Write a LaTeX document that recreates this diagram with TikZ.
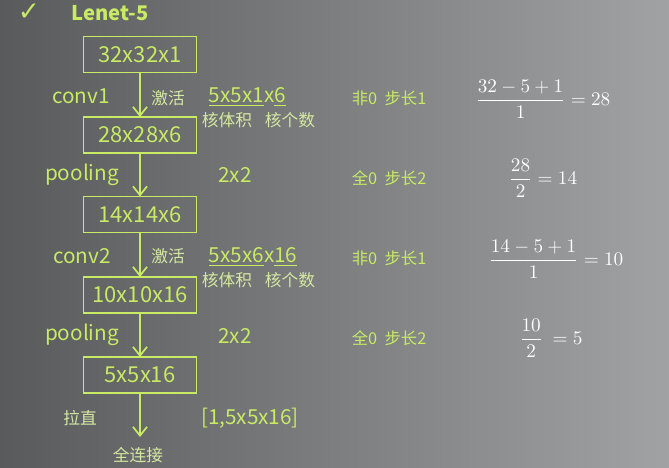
\documentclass[tikz,border=0pt]{standalone}
\usepackage{fontspec}
\setmainfont{Noto Sans CJK SC}
\newfontfamily\symfont{DejaVu Sans}
\usepackage{amsmath}
\usetikzlibrary{arrows.meta}
\definecolor{bgdark}{RGB}{88,90,92}
\definecolor{bglight}{RGB}{160,162,163}
\definecolor{lgreen}{RGB}{200,234,100}
\definecolor{pgreen}{RGB}{214,232,160}
\tikzset{
    %Define standard arrow tip
    >={Straight Barb[length=5pt,width=8pt]},
    % Define arrow style
    pil/.style={
           ->,
           lgreen,
           line width=1pt,},
    box/.style={
           draw=lgreen,
           line width=1.1pt,
           minimum width=2.26cm,
           minimum height=0.72cm,
           text=lgreen,
           font=\fontsize{12.5}{15}\selectfont},
    lbl/.style={text=lgreen, font=\fontsize{11.8}{14}\selectfont},
    cn/.style={text=pgreen, font=\fontsize{9.5}{11}\selectfont},
    note/.style={text=lgreen, font=\fontsize{9.3}{11}\selectfont},
    frm/.style={text=white, font=\fontsize{11}{13}\selectfont}
}
\begin{document}
\begin{tikzpicture}[x=0.02cm, y=-0.02cm, outer sep = 0pt]

%%%%%%%%%%%%%%%%%%%%%%%%%%%%%%%%%

% background
\shade[left color=bgdark, right color=bglight] (0,0) rectangle (669,467);
\useasboundingbox (0,0) rectangle (669,467);

% title
\node [text=lgreen, font=\symfont\fontsize{15}{17}\selectfont] (tick) at (29, 12) {✓};
\node [lbl, font=\bfseries\fontsize{11.5}{14}\selectfont, anchor=west] (title) at (66, 13) {Lenet-5};

% layers
\node [box] (in)  at (140, 54.5) {32x32x1};
\node [box] (c1)  at (140, 135)  {28x28x6};
\node [box] (p1)  at (140, 214.5) {14x14x6};
\node [box] (c2)  at (140, 295)  {10x10x16};
\node [box] (p2)  at (140, 375)  {5x5x16};
\coordinate (fc) at (140, 437);

% arrows
\draw [pil] (in) -- (c1);
\draw [pil] (c1) -- (p1);
\draw [pil] (p1) -- (c2);
\draw [pil] (c2) -- (p2);
\draw [pil] (p2) -- (fc);

% left labels
\node [lbl] (conv1) at ( 81, 96)  {conv1};
\node [lbl] (pool1) at ( 82, 175) {pooling};
\node [lbl] (conv2) at ( 82, 256) {conv2};
\node [lbl] (pool2) at ( 82, 335) {pooling};
\node [cn]  (flat)  at ( 80, 418) {拉直};
\node [cn]  (full)  at (138, 455) {全连接};

% kernel sizes
\node [cn]  (act1) at (168, 98)  {激活};
\node [lbl, anchor=west] (k1) at (203, 97) {\underline{5x5x1}x\underline{6}};
\node [cn]  (v1) at (227, 120) {核体积};
\node [cn]  (n1) at (290, 120) {核个数};
\node [lbl] (s1) at (235, 175) {2x2};
\node [cn]  (act2) at (168, 256) {激活};
\node [lbl, anchor=west] (k2) at (203, 257) {\underline{5x5x6}x\underline{16}};
\node [cn]  (v2) at (227, 280) {核体积};
\node [cn]  (n2) at (290, 280) {核个数};
\node [lbl] (s2) at (235, 336) {2x2};
\node [lbl] (vec) at (250, 418) {[1,5x5x16]};

% padding and stride
\node [note, anchor=west] (pad1) at (346, 98)  {非0 \ 步长1};
\node [note, anchor=west] (pad2) at (346, 178) {全0 \ 步长2};
\node [note, anchor=west] (pad3) at (346, 258) {非0 \ 步长1};
\node [note, anchor=west] (pad4) at (346, 338) {全0 \ 步长2};

% output sizes
\node [frm] (f1) at (543, 99)  {$\dfrac{32-5+1}{1}=28$};
\node [frm] (f2) at (543, 178) {$\dfrac{28}{2}=14$};
\node [frm] (f3) at (556, 259) {$\dfrac{14-5+1}{1}=10$};
\node [frm] (f4) at (551, 338) {$\dfrac{10}{2}\ =5$};

\end{tikzpicture}
\end{document}
